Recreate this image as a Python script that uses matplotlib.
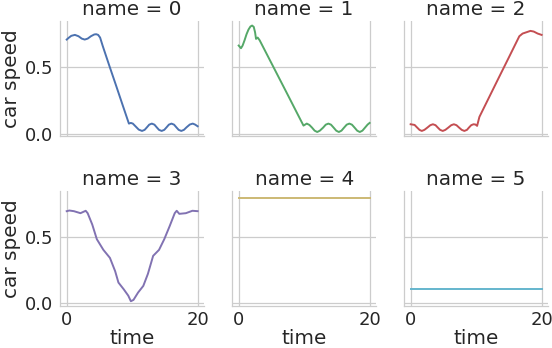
import matplotlib
matplotlib.use("Agg")
import matplotlib.pyplot as plt

# time / speed, one pair of lists per car
t0 = [0, 0.3, 0.7, 1.25, 1.8, 2.3, 2.75, 3.2, 3.7, 4.2, 4.5, 4.8, 5.1, 5.5, 6.5, 7.5, 8.5,
      9.5, 9.8, 10.1, 10.5, 11.0, 11.5, 11.9, 12.25, 12.6, 13.0, 13.4, 13.75, 14.1, 14.5,
      14.9, 15.25, 15.6, 16.0, 16.4, 16.75, 17.1, 17.5, 17.9, 18.3, 18.8, 19.25, 19.6, 20]
v0 = [0.705, 0.718, 0.733, 0.74, 0.73, 0.712, 0.705, 0.712, 0.73, 0.743, 0.745, 0.74, 0.72,
      0.657, 0.51, 0.366, 0.22, 0.075, 0.08, 0.075, 0.055, 0.03, 0.02, 0.028, 0.047, 0.067,
      0.075, 0.067, 0.047, 0.028, 0.02, 0.028, 0.047, 0.067, 0.075, 0.067, 0.047, 0.028,
      0.02, 0.028, 0.047, 0.068, 0.075, 0.068, 0.055]

t1 = [0, 0.35, 0.6, 0.9, 1.2, 1.5, 1.8, 2.05, 2.3, 2.5, 2.65, 2.9, 3.2, 4.5, 6, 7.5, 9, 9.9,
      10.4, 10.8, 11.2, 11.6, 12.0, 12.4, 12.9, 13.3, 13.7, 14.1, 14.5, 14.9, 15.3, 15.7,
      16.1, 16.5, 16.9, 17.3, 17.7, 18.1, 18.5, 18.9, 19.3, 19.7, 20]
v1 = [0.66, 0.64, 0.66, 0.70, 0.745, 0.78, 0.803, 0.81, 0.80, 0.76, 0.71, 0.72, 0.70, 0.576,
      0.433, 0.29, 0.146, 0.06, 0.075, 0.065, 0.045, 0.022, 0.012, 0.022, 0.045, 0.067,
      0.075, 0.067, 0.045, 0.022, 0.012, 0.022, 0.045, 0.067, 0.075, 0.067, 0.045, 0.022,
      0.012, 0.022, 0.045, 0.068, 0.08]

t2 = [0, 0.6, 1.0, 1.35, 1.7, 2.1, 2.55, 3.0, 3.4, 3.8, 4.15, 4.5, 4.9, 5.3, 5.75, 6.2, 6.6,
      7.0, 7.4, 7.8, 8.2, 8.6, 8.9, 9.25, 9.6, 9.9, 10.15, 10.5, 12, 13.5, 15, 16.6, 17.1,
      17.7, 18.3, 18.8, 19.4, 20]
v2 = [0.07, 0.065, 0.045, 0.028, 0.02, 0.028, 0.045, 0.063, 0.07, 0.063, 0.045, 0.028, 0.02,
      0.028, 0.045, 0.063, 0.07, 0.063, 0.045, 0.028, 0.02, 0.028, 0.045, 0.063, 0.07, 0.068,
      0.058, 0.125, 0.274, 0.423, 0.571, 0.73, 0.75, 0.76, 0.77, 0.765, 0.75, 0.74]

t3 = [0, 0.4, 1.1, 2.1, 2.9, 3.2, 3.9, 4.6, 5.6, 6.6, 7.4, 7.9, 8.7, 9.4, 9.8, 10.2, 10.9,
      11.7, 12.4, 13.2, 14.1, 14.9, 15.7, 16.5, 16.8, 17.2, 18.2, 19.2, 20]
v3 = [0.69, 0.695, 0.69, 0.675, 0.693, 0.675, 0.59, 0.48, 0.40, 0.34, 0.24, 0.155, 0.105,
      0.057, 0.015, 0.025, 0.08, 0.13, 0.22, 0.355, 0.40, 0.48, 0.575, 0.675, 0.693, 0.67,
      0.675, 0.693, 0.69]

t4 = [0, 20]
v4 = [0.787, 0.787]

t5 = [0, 20]
v5 = [0.104, 0.104]

names = [0, 1, 2, 3, 4, 5]
times = [t0, t1, t2, t3, t4, t5]
speeds = [v0, v1, v2, v3, v4, v5]
colors = ['#4C72B0', '#55A868', '#C44E52', '#8172B2', '#CCB974', '#64B5CD']

plt.rcParams['font.family'] = 'DejaVu Sans'

fig, axes = plt.subplots(2, 3, figsize=(5.52, 3.48), dpi=100, sharex=True, sharey=True)
fig.subplots_adjust(left=0.109, right=0.993, top=0.94, bottom=0.121, wspace=0.194, hspace=0.47)

for i, ax in enumerate(axes.flat):
    ax.plot(times[i], speeds[i], color=colors[i], linewidth=1.4)
    ax.set_title('name = %d' % names[i], fontsize=14.4, color='#262626', pad=4)
    ax.grid(True, color='#cccccc', linewidth=0.9)
    ax.set_axisbelow(True)
    for side in ['top', 'right']:
        ax.spines[side].set_visible(False)
    for side in ['left', 'bottom']:
        ax.spines[side].set_color('#cccccc')
        ax.spines[side].set_linewidth(0.9)
    ax.tick_params(length=0, labelsize=13, labelcolor='#262626')
    ax.tick_params(axis='y', pad=5)
    ax.tick_params(axis='x', pad=3.5)
    if i % 3 == 0:
        ax.set_ylabel('car speed', fontsize=14.4, color='#262626', labelpad=3)
    if i >= 3:
        ax.set_xlabel('time', fontsize=14.4, color='#262626', labelpad=0.5)

axes[0, 0].set_xticks([0, 20])
axes[0, 0].set_yticks([0.0, 0.5])
axes[0, 0].set_ylim(-0.02, 0.845)
axes[0, 0].set_xlim(-1, 21)

fig.savefig('out.png')
